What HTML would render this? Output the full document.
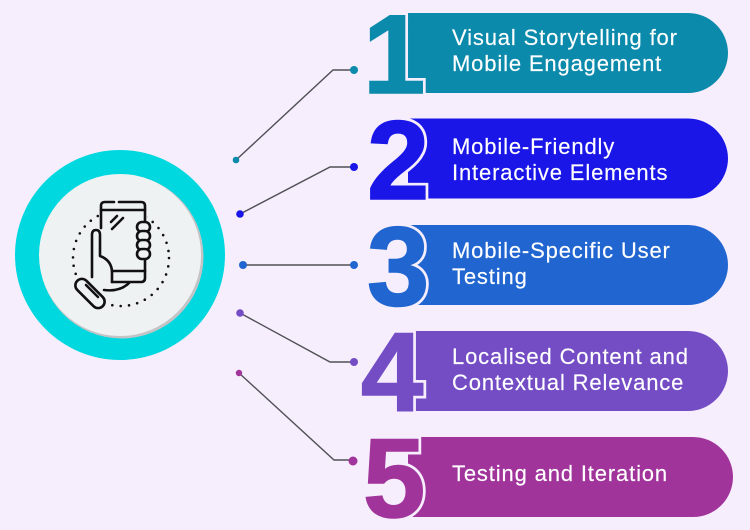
<!DOCTYPE html>
<html><head><meta charset="utf-8"><style>
html,body{margin:0;padding:0;background:#f6eefd;}
svg{display:block;}
.t{font-family:"Liberation Sans",sans-serif;font-size:22px;fill:#fff;letter-spacing:0.85px;stroke:#fff;stroke-width:0.15px;}
.d{font-family:"Liberation Sans",sans-serif;font-weight:bold;font-size:112px;stroke:#f6eefd;stroke-width:7;paint-order:stroke;stroke-linejoin:miter;}
.e{font-family:"Liberation Sans",sans-serif;font-weight:bold;font-size:112px;stroke-width:1.6;stroke-linejoin:miter;}
</style></head><body>
<svg width="750" height="530" viewBox="0 0 750 530" xmlns="http://www.w3.org/2000/svg">
<rect width="750" height="530" fill="#f6eefd"/>
<!-- circle -->
<circle cx="120" cy="255" r="105" fill="#00d8df"/>
<circle cx="121.5" cy="256.5" r="82" fill="#c4c4c6"/>
<circle cx="120" cy="255" r="81" fill="#eff2f3"/>
<!-- dotted ring -->
<circle cx="121" cy="258" r="48" fill="none" stroke="#111" stroke-width="2.6" stroke-linecap="round" stroke-dasharray="0 8.4"/>
<!-- icon -->
<g fill="none" stroke="#111" stroke-width="2.6" stroke-linecap="round" stroke-linejoin="round">
<rect x="99" y="200" width="48" height="84" rx="5" fill="#eff2f3" stroke="none"/>
<path d="M90 228 L90 280 L110 296 L132 292 L140 282 L100 282 Z" fill="#eff2f3" stroke="none"/>
<path d="M114 202 H105 Q101 202 101 206 V228"/>
<path d="M119 202 H141 Q145 202 145 206 V278 Q145 282 141 282 H112"/>
<path d="M101 210 H145"/>
<path d="M112 271 H145"/>
<path d="M111 222 L117 216"/>
<path d="M112 229 L123 218"/>
<!-- fingers -->
<rect x="137" y="222" width="13" height="10" rx="5" fill="#eff2f3"/>
<rect x="137" y="231" width="13" height="10" rx="5" fill="#eff2f3"/>
<rect x="137" y="240" width="13" height="10" rx="5" fill="#eff2f3"/>
<rect x="137" y="249" width="13" height="10" rx="5" fill="#eff2f3"/>
<!-- thumb -->
<path d="M92 277 V235 Q92 230 96 230 Q100 230 100 235 V256 Q111 260 112 271 V282"/>
<path d="M104 290 Q120 292 129 283"/>
<!-- cuff -->
<rect x="72" y="287" width="36" height="13" rx="6.5" transform="rotate(45 90 293.5)" fill="#eff2f3"/>
<path d="M86 285 L98 297"/>
</g>
<!-- connectors -->
<g fill="none" stroke="#505055" stroke-width="1.4">
<path d="M236 160 L333 70 H354"/>
<path d="M240 214 L330 167 H354"/>
<path d="M243 265 H354"/>
<path d="M240 313 L330 362 H354"/>
<path d="M239 373 L334 460 H353"/>
</g>
<circle cx="236" cy="160" r="3.3" fill="#0b8aab"/>
<circle cx="354" cy="70" r="4" fill="#0b8aab"/>
<circle cx="240" cy="214" r="3.8" fill="#1a16e8"/>
<circle cx="354" cy="167" r="4" fill="#1a16e8"/>
<circle cx="243" cy="265" r="4" fill="#2166d0"/>
<circle cx="354" cy="265" r="4" fill="#2166d0"/>
<circle cx="240" cy="313" r="3.8" fill="#744dc5"/>
<circle cx="354" cy="362" r="4" fill="#744dc5"/>
<circle cx="239" cy="373" r="3.2" fill="#a1349b"/>
<circle cx="353" cy="461" r="4.5" fill="#a1349b"/>
<!-- bars -->
<path d="M408 13 H688 A40 40 0 0 1 688 93 H408 Z" fill="#0b8aab"/>
<path d="M408 118.5 H688 A40 40 0 0 1 688 198.5 H408 Z" fill="#1a16e8"/>
<path d="M408 225 H688 A40 40 0 0 1 688 305 H408 Z" fill="#2166d0"/>
<path d="M408 331 H688 A40 40 0 0 1 688 411 H408 Z" fill="#744dc5"/>
<path d="M408 437 H693 A40 40 0 0 1 693 517 H408 Z" fill="#a1349b"/>
<!-- digits -->
<text class="d" x="363" y="93" fill="#0b8aab">1</text>
<text class="d" x="367" y="199" fill="#1a16e8">2</text>
<text class="d" x="367" y="305" fill="#2166d0">3</text>
<text class="d" x="361" y="411" fill="#744dc5">4</text>
<text class="d" x="363" y="517" fill="#a1349b">5</text>
<text class="e" x="363" y="93" fill="#0b8aab" stroke="#0b8aab">1</text>
<text class="e" x="367" y="199" fill="#1a16e8" stroke="#1a16e8">2</text>
<text class="e" x="367" y="305" fill="#2166d0" stroke="#2166d0">3</text>
<text class="e" x="361" y="411" fill="#744dc5" stroke="#744dc5">4</text>
<text class="e" x="363" y="517" fill="#a1349b" stroke="#a1349b">5</text>
<!-- labels -->
<text class="t" x="452" y="45">Visual Storytelling for</text>
<text class="t" x="452" y="71">Mobile Engagement</text>
<text class="t" x="452" y="154">Mobile-Friendly</text>
<text class="t" x="452" y="180">Interactive Elements</text>
<text class="t" x="452" y="258">Mobile-Specific User</text>
<text class="t" x="452" y="284">Testing</text>
<text class="t" x="452" y="364">Localised Content and</text>
<text class="t" x="452" y="390">Contextual Relevance</text>
<text class="t" x="452" y="481">Testing and Iteration</text>
</svg>
</body></html>
